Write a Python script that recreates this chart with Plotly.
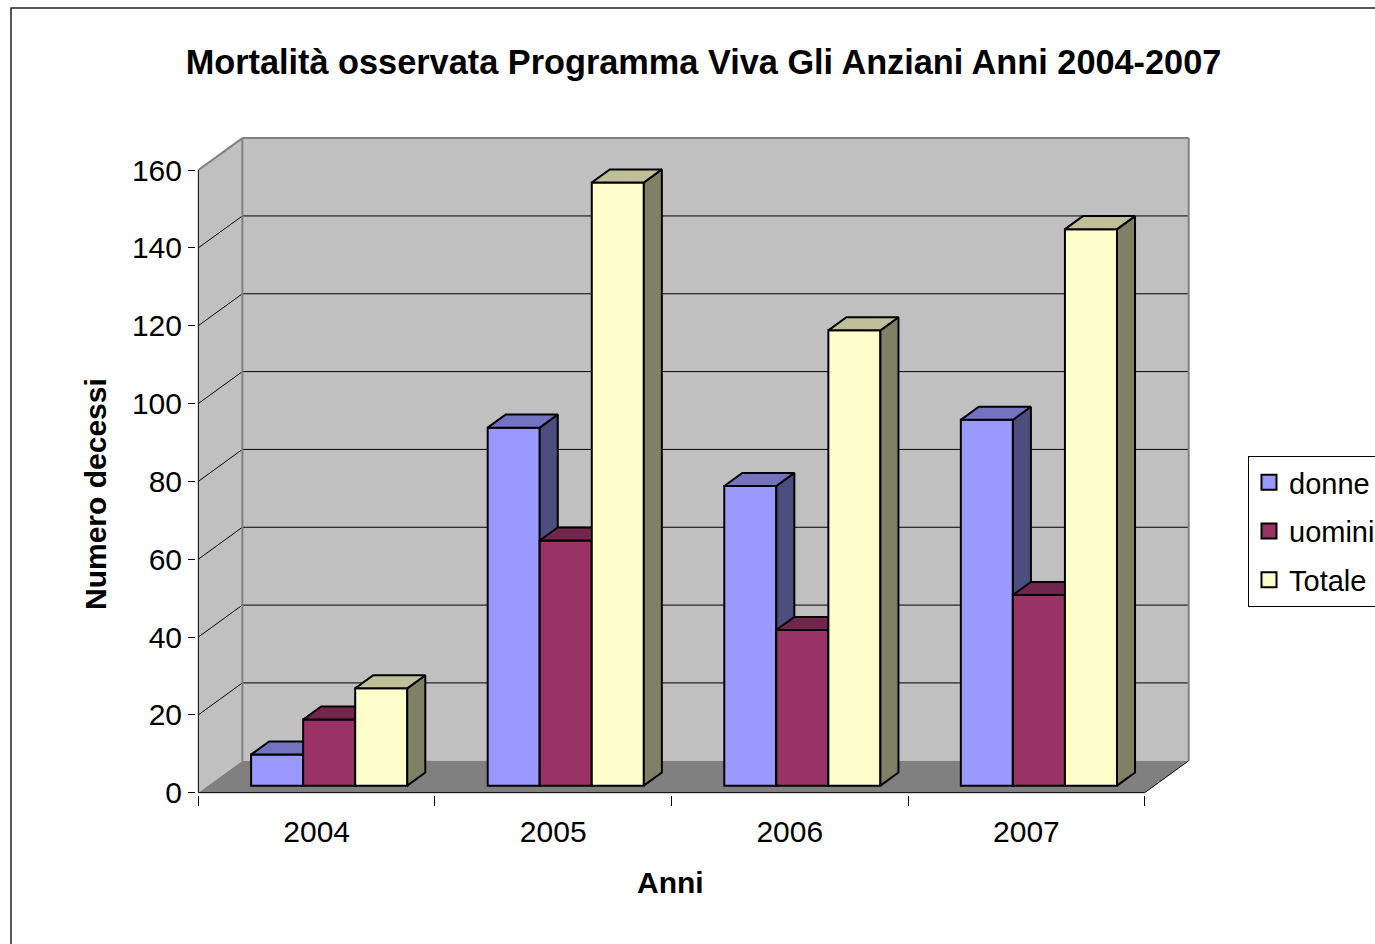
import plotly.graph_objects as go

# ---------------- data ----------------
years = ["2004", "2005", "2006", "2007"]
donne = [8, 92, 77, 94]
uomini = [17, 63, 40, 49]
totale = [25, 155, 117, 143]
series_names = ["donne", "uomini", "Totale"]
series_values = [donne, uomini, totale]
y_ticks = [0, 20, 40, 60, 80, 100, 120, 140, 160]

title_text = "Mortalità osservata Programma Viva Gli Anziani Anni 2004-2007"
y_title = "Numero decessi"
x_title = "Anni"

# ---------------- style ----------------
FONT = "Liberation Sans, Arial, sans-serif"
front_colors = ["#9999FF", "#993366", "#FFFFCC"]
top_colors = ["#7373BF", "#73264D", "#BFBF99"]
side_colors = ["#4D4D80", "#4D1A33", "#808066"]
WALL = "#C0C0C0"
FLOOR = "#808080"
EDGE = "#808080"

W, H = 1375, 944
X0, X1 = -0.01, 4.2
Y0, Y1 = -0.6, 169
ML, MR, MT, MB = 196, 183, 135, 149

# depth (pseudo-3D) offsets in data units
W_DX, W_DY = 0.186, 8.2          # wall depth
ox, oy = W_DX * 0.22, W_DY * 0.22  # bar front offset
bdx, bdy = W_DX * 0.41, W_DY * 0.41  # bar depth
BAR_W = 0.22
YMAX = y_ticks[-1]
n = len(years)


def px_to_paper(px, py):
    pw = W - ML - MR
    ph = H - MT - MB
    return (px - ML) / pw, (H - MB - py) / ph


def polys_to_xy(polys):
    xs, ys = [], []
    for p in polys:
        for a, b in p:
            xs.append(a)
            ys.append(b)
        xs.append(p[0][0])
        ys.append(p[0][1])
        xs.append(None)
        ys.append(None)
    return xs, ys


fig = go.Figure()

for k, (name, vals) in enumerate(zip(series_names, series_values)):
    xa = "x" if k == 0 else f"x{k + 1}"
    ya = "y" if k == 0 else f"y{k + 1}"
    centers = [i + 0.512 + (k - 1) * BAR_W + ox for i in range(n)]
    fig.add_trace(go.Bar(
        x=centers, y=vals, base=[oy] * n, width=BAR_W,
        marker=dict(color=front_colors[k], line=dict(color="black", width=2)),
        name=name, legendgroup=name, showlegend=False, xaxis=xa, yaxis=ya,
        customdata=years,
        hovertemplate="%{customdata}: %{y}<extra>" + name + "</extra>",
    ))
    tops, sides = [], []
    for c, v in zip(centers, vals):
        l, r = c - BAR_W / 2, c + BAR_W / 2
        t = oy + v
        tops.append([(l, t), (r, t), (r + bdx, t + bdy), (l + bdx, t + bdy)])
        sides.append([(r, oy), (r + bdx, oy + bdy), (r + bdx, t + bdy), (r, t)])
    for polys, col in ((sides, side_colors[k]), (tops, top_colors[k])):
        xs, ys = polys_to_xy(polys)
        fig.add_trace(go.Scatter(
            x=xs, y=ys, mode="lines", fill="toself", fillcolor=col,
            line=dict(color="black", width=2), showlegend=False,
            hoverinfo="skip", legendgroup=name, xaxis=xa, yaxis=ya,
        ))
    # legend entry with a larger square swatch
    fig.add_trace(go.Scatter(
        x=[None], y=[None], mode="markers", name=name, legendgroup=name,
        marker=dict(symbol="square", size=15, color=front_colors[k],
                    line=dict(color="black", width=2)),
        xaxis=xa, yaxis=ya, hoverinfo="skip",
    ))

shapes = []
# side wall, back wall, floor
shapes.append(dict(type="path", xref="x", yref="y", layer="below",
                   path=f"M0,0 L{W_DX},{W_DY} L{W_DX},{YMAX + W_DY} L0,{YMAX} Z",
                   fillcolor=WALL, line=dict(width=0)))
shapes.append(dict(type="rect", xref="x", yref="y", layer="below",
                   x0=W_DX, x1=n + W_DX, y0=W_DY, y1=YMAX + W_DY,
                   fillcolor=WALL, line=dict(width=0)))
shapes.append(dict(type="path", xref="x", yref="y", layer="below",
                   path=f"M0,0 L{n},0 L{n + W_DX},{W_DY} L{W_DX},{W_DY} Z",
                   fillcolor=FLOOR, line=dict(width=0)))
# grid lines on back wall and side wall
for v in y_ticks[1:-1]:
    shapes.append(dict(type="line", xref="x", yref="y", layer="below",
                       x0=W_DX, x1=n + W_DX, y0=v + W_DY, y1=v + W_DY,
                       line=dict(color="black", width=1)))
    shapes.append(dict(type="line", xref="x", yref="y", layer="below",
                       x0=0, x1=W_DX, y0=v, y1=v + W_DY,
                       line=dict(color="black", width=1)))
# wall edges
for (xa0, ya0, xa1, ya1) in [(W_DX, W_DY, W_DX, YMAX + W_DY),
                             (W_DX, YMAX + W_DY, n + W_DX, YMAX + W_DY),
                             (n + W_DX, W_DY, n + W_DX, YMAX + W_DY),
                             (0, YMAX, W_DX, YMAX + W_DY)]:
    shapes.append(dict(type="line", xref="x", yref="y", layer="below",
                       x0=xa0, y0=ya0, x1=xa1, y1=ya1,
                       line=dict(color=EDGE, width=2)))
# front axis edges
for (xa0, ya0, xa1, ya1) in [(0, 0, 0, YMAX), (0, 0, n, 0),
                             (n, 0, n + W_DX, W_DY)]:
    shapes.append(dict(type="line", xref="x", yref="y", layer="below",
                       x0=xa0, y0=ya0, x1=xa1, y1=ya1,
                       line=dict(color="black", width=1)))
# outer chart border
bx0, by0 = px_to_paper(11, 8)
bx1, by1 = px_to_paper(1420, 980)
shapes.append(dict(type="rect", xref="paper", yref="paper", layer="above",
                   x0=bx0, x1=bx1, y0=by1, y1=by0,
                   line=dict(color="#222222", width=1.5), fillcolor="rgba(0,0,0,0)"))

ax_common = dict(showgrid=False, zeroline=False, showline=False)
ytx, yty = px_to_paper(95, 494)
xtx, xty = px_to_paper(670, 882)
lgx, lgy = px_to_paper(1248, 456)

fig.update_layout(
    width=W, height=H,
    margin=dict(l=ML, r=MR, t=MT, b=MB, autoexpand=False),
    paper_bgcolor="white", plot_bgcolor="white",
    font=dict(family=FONT, color="black", size=30),
    barmode="overlay",
    shapes=shapes,
    title=dict(text=title_text, xref="container", yref="container",
               x=703.5 / W, y=1 - 62 / H, xanchor="center", yanchor="middle",
               font=dict(family=FONT, size=34.3, color="black", weight="bold")),
    xaxis=dict(range=[X0, X1], tickmode="array",
               tickvals=[i + 0.5 for i in range(n)], ticktext=years,
               ticks="", ticklabelstandoff=16,
               tickfont=dict(family=FONT, size=30, color="black"),
               minor=dict(tickmode="array", tickvals=list(range(n + 1)),
                          ticks="outside", ticklen=10, tickcolor="black", tickwidth=1),
               **ax_common),
    yaxis=dict(range=[Y0, Y1], tickmode="array", tickvals=y_ticks,
               ticks="outside", ticklen=7, tickcolor="black", tickwidth=1,
               tickfont=dict(family=FONT, size=30, color="black"),
               **ax_common),
    xaxis2=dict(overlaying="x", range=[X0, X1], visible=False, **ax_common),
    yaxis2=dict(overlaying="y", range=[Y0, Y1], visible=False, **ax_common),
    xaxis3=dict(overlaying="x", range=[X0, X1], visible=False, **ax_common),
    yaxis3=dict(overlaying="y", range=[Y0, Y1], visible=False, **ax_common),
    legend=dict(x=lgx, y=lgy, xanchor="left", yanchor="top",
                bgcolor="white", bordercolor="black", borderwidth=1,
                font=dict(family=FONT, size=29, color="black"),
                tracegroupgap=8, traceorder="grouped", itemsizing="trace"),
    annotations=[
        dict(text=y_title, xref="paper", yref="paper", x=ytx, y=yty,
             textangle=-90, showarrow=False, xanchor="center", yanchor="middle",
             font=dict(family=FONT, size=30, color="black", weight="bold")),
        dict(text=x_title, xref="paper", yref="paper", x=xtx, y=xty,
             showarrow=False, xanchor="center", yanchor="middle",
             font=dict(family=FONT, size=30, color="black", weight="bold")),
    ],
)

fig.write_html("out.html", config={"displayModeBar": False},
               post_script="document.body.style.margin='0px';")
